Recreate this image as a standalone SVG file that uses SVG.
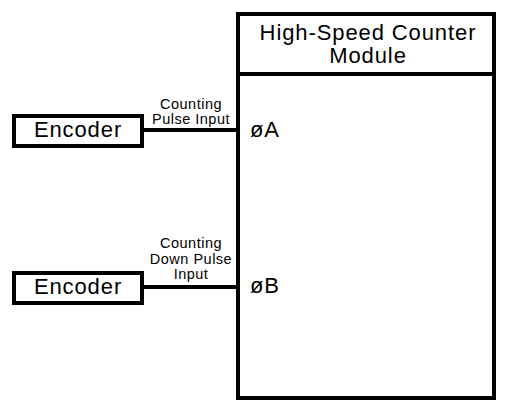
<svg xmlns="http://www.w3.org/2000/svg" width="508" height="412" viewBox="0 0 508 412">
<style>
.box{fill:#fff;stroke:#000;stroke-width:4}
.ln{stroke:#000;stroke-width:4;fill:none}
.t{font-family:"Liberation Sans",Arial,sans-serif;fill:#000}
.big{font-size:22px;letter-spacing:0.9px}
.sm{font-size:14.5px;letter-spacing:0.5px}
</style>
<rect width="508" height="412" fill="#fff"/>
<g id="connectors">
<line class="ln" x1="144" y1="130" x2="238" y2="130"/>
<line class="ln" x1="144" y1="287" x2="238" y2="287"/>
<text class="t sm" text-anchor="middle" x="191" y="109">Counting</text>
<text class="t sm" text-anchor="middle" x="191" y="124">Pulse Input</text>
<text class="t sm" text-anchor="middle" x="191" y="248">Counting</text>
<text class="t sm" text-anchor="middle" x="191" y="264">Down Pulse</text>
<text class="t sm" text-anchor="middle" x="191" y="279">Input</text>
</g>
<g id="module">
<rect class="box" x="238" y="14" width="256" height="384"/>
<line class="ln" x1="238" y1="74" x2="494" y2="74"/>
<text class="t big" text-anchor="middle" x="368" y="40">High-Speed Counter</text>
<text class="t big" text-anchor="middle" x="368" y="63">Module</text>
<text class="t big" x="250" y="137">øA</text>
<text class="t big" x="250" y="293">øB</text>
</g>
<g id="encoder1">
<rect class="box" x="14" y="116" width="128" height="30"/>
<text class="t big" text-anchor="middle" x="78" y="137">Encoder</text>
</g>
<g id="encoder2">
<rect class="box" x="14" y="273" width="128" height="30"/>
<text class="t big" text-anchor="middle" x="78" y="294">Encoder</text>
</g>
</svg>
